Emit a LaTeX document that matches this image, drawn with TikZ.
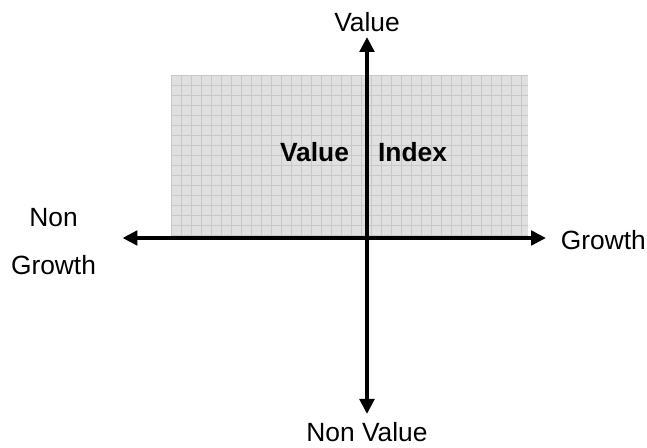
\documentclass[tikz,border=0pt]{standalone}
\usepackage{fontspec}
\setmainfont{Liberation Sans}
\usepackage{tikz}
\usetikzlibrary{arrows.meta}
\definecolor{quadfill}{HTML}{E0E0E0}
\definecolor{quadgrid}{HTML}{C8C8C8}

\begin{document}
\begin{tikzpicture}[font=\fontsize{15}{18}\selectfont,
  quad/.style={fill=quadfill,draw=none,inner sep=0pt,minimum width=7.14cm,minimum height=3.23cm},
  gridline/.style={draw=quadgrid,line width=0.4pt},
  axis/.style={line width=2.3pt,<->},
  lab/.style={anchor=base,inner sep=0pt},
  key/.style={lab,font=\fontsize{15}{18}\selectfont\bfseries},
  >={Triangle[length=0.3cm,width=0.29cm]}]
  \useasboundingbox (-7.34,-4.2) rectangle (5.6,4.76);
  \node[quad,anchor=south west] (quad) at (-3.92,0) {};
  \draw[gridline,shift={(quad.north west)}] (0,0) grid[step=0.2cm] (7.14,-3.23);
  \coordinate (north) at (0,4.02);
  \coordinate (south) at (0,-3.52);
  \coordinate (west) at (-4.89,0);
  \coordinate (east) at (3.58,0);
  \draw[axis] (west) -- (east);
  \draw[axis] (south) -- (north);
  \node[lab] (valuelab) at (0,4.12) {Value};
  \node[lab] (nonvaluelab) at (0,-4.08) {Non Value};
  \node[lab,anchor=base west] (growthlab) at (3.87,-0.24) {Growth};
  \node[align=center,inner sep=0pt,font=\fontsize{15}{27.2}\selectfont] (nongrowthlab) at (-6.27,-0.07) {Non\\Growth};
  \node[key] (valueword) at (-1.05,1.53) {Value};
  \node[key] (indexword) at (0.91,1.53) {Index};
\end{tikzpicture}
\end{document}
